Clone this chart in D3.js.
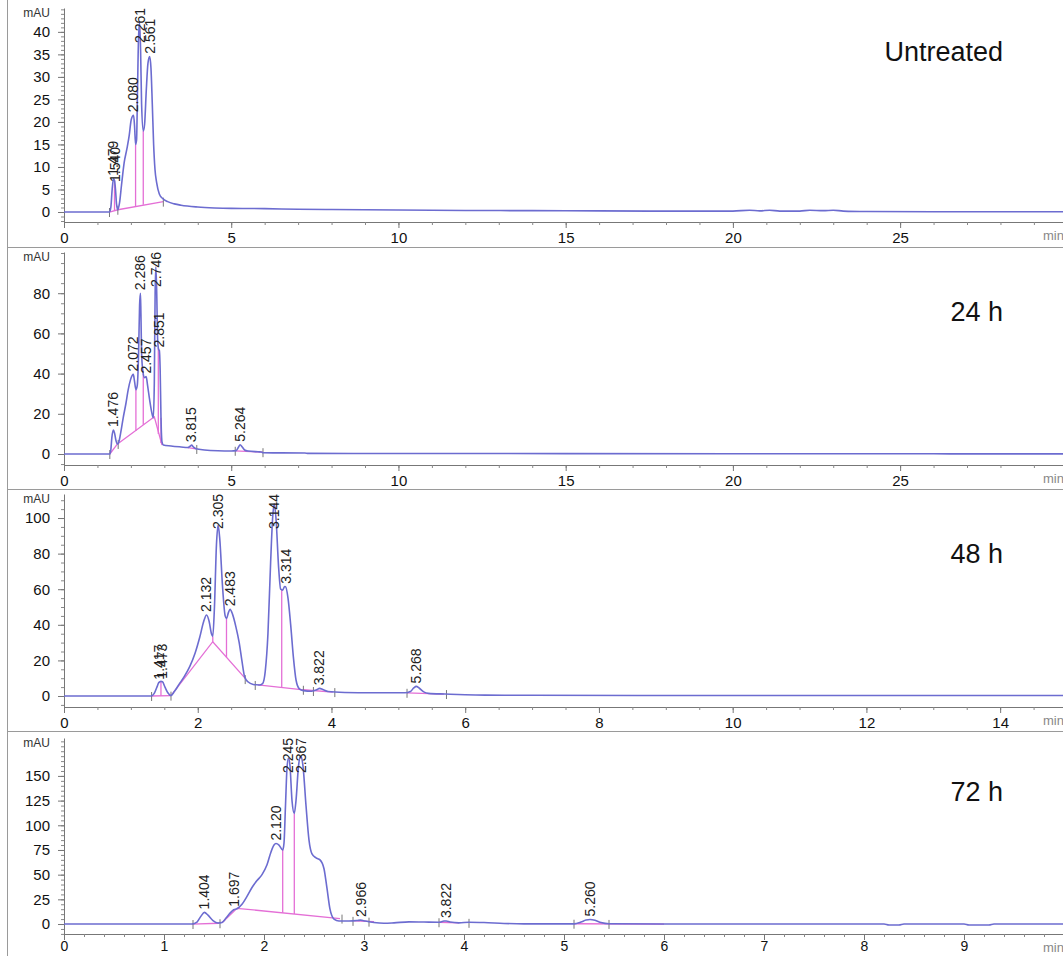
<!DOCTYPE html>
<html><head><meta charset="utf-8">
<script src="https://cdn.jsdelivr.net/npm/d3@7"></script>
<style>body{margin:0;background:#fff}svg{display:block}text{font-family:Arial,"Liberation Sans",sans-serif}</style>
</head><body><svg id="c" width="1063" height="956"></svg>
<script>
// ---------- DATA ----------
const titles = ["Untreated", "24 h", "48 h", "72 h"];

// traces: [time (min), signal (mAU)]
const traceUntreated = [[0,0],[1.36,0],[1.40,1],[1.44,5],[1.479,7.4],[1.51,7.0],[1.54,5],[1.57,1.8],[1.61,0.5],[1.66,2],[1.72,6],[1.80,11],[1.88,14],[1.95,17],[2.01,20.5],[2.080,21.5],[2.11,19],[2.14,15],[2.17,16],[2.20,28],[2.23,39],[2.261,42],[2.29,36],[2.32,24],[2.37,18],[2.41,19.5],[2.46,27],[2.51,33],[2.561,34.5],[2.60,32],[2.64,24],[2.68,15],[2.72,9.5],[2.77,6.5],[2.85,4],[2.95,3],[3.1,2.3],[3.3,1.8],[3.5,1.5],[4.0,1.1],[4.5,0.9],[5,0.8],[6,0.75],[7,0.6],[8,0.55],[9,0.5],[10,0.45],[11,0.4],[12,0.35],[14,0.3],[16,0.25],[18,0.2],[20,0.2],[20.5,0.4],[20.8,0.25],[21.1,0.4],[21.4,0.2],[22,0.2],[22.3,0.4],[22.7,0.3],[23,0.4],[23.3,0.2],[24,0.1],[26,0.05],[30,0.05]];
const trace24h = [[0,0],[1.37,0],[1.40,2],[1.43,8],[1.476,11.9],[1.51,10.5],[1.55,7],[1.60,5],[1.64,6],[1.70,11],[1.77,18],[1.85,25],[1.92,32],[1.99,37],[2.072,39.6],[2.11,36],[2.15,32],[2.19,34],[2.23,50],[2.26,74],[2.286,80],[2.30,70],[2.32,50],[2.36,41],[2.41,38],[2.457,38.5],[2.50,34],[2.56,27],[2.62,21],[2.67,18],[2.70,35],[2.725,80],[2.746,93],[2.77,82],[2.80,57],[2.83,52],[2.851,51.5],[2.875,42],[2.90,18],[2.93,6],[2.97,4.5],[3.2,4],[3.5,3.5],[3.7,3.2],[3.78,4.0],[3.815,4.4],[3.87,3.5],[3.95,2.6],[4.2,2],[4.6,1.6],[5.0,1.5],[5.15,1.7],[5.22,3.5],[5.264,4.6],[5.33,3.5],[5.4,2],[5.5,1.5],[5.8,1.1],[5.9,1.0],[5.95,0.6],[6.5,0.55],[7.2,0.5],[7.3,0.3],[10,0.25],[15,0.2],[20,0.15],[26,0.1],[27,0.05],[30,0.05]];
const trace48h = [[0,0],[1.30,0],[1.35,1.5],[1.40,6],[1.417,7.5],[1.45,8.2],[1.473,8],[1.51,5],[1.55,2],[1.60,0.3],[1.65,2.5],[1.72,6.5],[1.80,11],[1.88,16.5],[1.96,24],[2.03,33],[2.09,42],[2.132,45.5],[2.17,42],[2.205,35],[2.225,33.5],[2.25,50],[2.28,85],[2.305,96],[2.33,88],[2.37,62],[2.41,45],[2.43,43.5],[2.46,47],[2.483,48.7],[2.52,46],[2.57,39],[2.62,30],[2.66,20],[2.70,11],[2.75,8],[2.83,6.5],[2.92,6.2],[2.97,7],[3.01,14],[3.05,35],[3.09,75],[3.12,100],[3.144,108],[3.17,100],[3.21,72],[3.24,60],[3.27,59.5],[3.30,61.5],[3.314,61.4],[3.35,55],[3.39,40],[3.43,22],[3.47,9],[3.52,4],[3.58,3],[3.7,2.7],[3.78,3.5],[3.822,4.3],[3.87,3.6],[3.95,2.5],[4.2,2],[4.6,1.8],[5.1,1.8],[5.18,2.5],[5.23,4.5],[5.268,5.4],[5.31,4.5],[5.38,2.3],[5.45,1.5],[5.7,1.1],[6.0,0.7],[6.3,0.5],[7,0.4],[10,0.3],[15,0.3]];
const trace72h = [[0,0],[1.28,0],[1.33,2],[1.37,8],[1.404,11.8],[1.44,9],[1.49,3.5],[1.54,1],[1.58,1.5],[1.62,6],[1.66,11],[1.697,14.5],[1.73,15.5],[1.78,20],[1.83,28],[1.88,37],[1.93,44],[1.98,50],[2.03,60],[2.07,73],[2.10,80],[2.120,81.5],[2.15,80],[2.187,75],[2.20,82],[2.215,120],[2.23,158],[2.245,168],[2.26,160],[2.28,125],[2.303,112],[2.32,125],[2.345,160],[2.367,170],[2.39,160],[2.42,120],[2.45,85],[2.48,71],[2.52,67],[2.56,65],[2.60,56],[2.63,36],[2.66,15],[2.70,5],[2.75,3],[2.85,3],[2.93,3.5],[2.966,4],[3.0,3.3],[3.1,1.5],[3.2,0.8],[3.3,1.2],[3.45,2.2],[3.6,2.0],[3.75,1.8],[3.80,3],[3.822,3],[3.86,2],[3.95,1.2],[4.05,1.8],[4.2,1.5],[4.4,0.6],[4.6,0.2],[5.1,0.2],[5.17,2],[5.22,4],[5.260,4.6],[5.31,3.8],[5.37,1.5],[5.45,0.3],[6,0],[8.2,0],[8.25,-1],[8.35,-1],[8.4,0],[9.0,0],[9.05,-1],[9.25,-1],[9.3,0],[10,0]];

// peak labels: [label, time, apex mAU]
const peaksUntreated = [["1.479",1.479,7.4],["1.540",1.540,6.0],["2.080",2.080,21.5],["2.261",2.261,42],["2.561",2.561,34.5]];
const peaks24h = [["1.476",1.476,11.9],["2.072",2.072,39.6],["2.286",2.286,80],["2.457",2.457,38.5],["2.746",2.746,93],["2.851",2.851,51.5],["3.815",3.815,4.4],["5.264",5.264,4.6]];
const peaks48h = [["1.417",1.417,7.5],["1.473",1.473,8],["2.132",2.132,45.5],["2.305",2.305,96],["2.483",2.483,48.7],["3.144",3.144,108],["3.314",3.314,61.4],["3.822",3.822,4.3],["5.268",5.268,5.4]];
const peaks72h = [["1.404",1.404,11.8],["1.697",1.697,14.5],["2.120",2.120,81.5],["2.245",2.245,168],["2.367",2.367,170],["2.966",2.966,4],["3.822",3.822,3],["5.260",5.260,4.6]];

// integration baselines (pink): lists of polylines [time, mAU]
const baseUntreated = [[[1.36,0],[1.61,0.5]],[[1.61,0.5],[2.97,2.3]]];
const base24h = [[[1.37,0],[1.60,5]],[[1.60,5],[2.70,18.5],[2.93,4.5]],[[3.70,3.2],[3.95,2.6]],[[5.12,1.6],[5.95,0.9]]];
const base48h = [[[1.30,0],[1.60,0.2]],[[1.60,0.2],[2.225,30.5],[2.72,9.5]],[[2.90,6.2],[3.58,3.5],[4.02,2.2]],[[5.13,1.8],[5.68,1.1]]];
const base72h = [[[1.28,0],[1.55,0.8]],[[1.58,1.2],[1.73,15.9],[2.76,5.5]],[[2.90,3.2],[3.10,2.4]],[[3.75,1.8],[3.95,1.2]],[[5.10,0.3],[6.0,0]]];

// drop lines: [time, bottom mAU, top mAU]
const dropsUntreated = [[1.51,0.3,7.0],[2.14,1.2,15],[2.37,1.6,18]];
const drops24h = [[2.15,11.5,32],[2.37,14.5,40],[2.82,10,53],[2.90,5.5,18]];
const drops48h = [[1.45,0.1,8.2],[2.225,30.5,33.5],[2.43,21.8,43.5],[3.256,4.8,59.6]];
const drops72h = [[2.187,11.3,75],[2.303,10.1,112]];

// integration event marks: [time, mAU]
const eventsUntreated = [[1.36,0],[1.61,0.5],[2.97,2.3]];
const events24h = [[1.37,0],[1.62,5],[3.97,2.5],[5.12,1.6],[5.95,0.9]];
const events48h = [[1.31,0],[1.60,0.2],[2.71,9.5],[2.86,6.2],[3.58,3.5],[3.73,2.8],[4.05,2.2],[5.13,1.8],[5.72,1.1]];
const events72h = [[1.29,0],[1.56,0.8],[2.78,5.5],[2.89,3.2],[3.05,2.4],[3.75,1.8],[4.05,1.2],[5.10,0.3],[5.45,0.1]];

// axis ticks
const yMajorUntreated = [0,5,10,15,20,25,30,35,40];
const yMajor24h = [0,20,40,60,80];
const yMajor48h = [0,20,40,60,80,100];
const yMajor72h = [0,25,50,75,100,125,150];
const xMajorWide = [0,5,10,15,20,25];
const xMajor48h = [0,2,4,6,8,10,12,14];
const xMajor72h = [0,1,2,3,4,5,6,7,8,9];

// ---------- LAYOUT ----------
const svg = d3.select("#c");
const X0 = 64, XR = 1063;
const FONT = "Arial, Liberation Sans, sans-serif";
const panels = [
  {title:titles[0], trace:traceUntreated, peaks:peaksUntreated, base:baseUntreated, drops:dropsUntreated, events:eventsUntreated,
   top:8, axisY:222, yDom:[-2.22,45.3], xMax:29.87, yMaj:yMajorUntreated, yMin:1, xMaj:xMajorWide, xMin:1, titleY:61, xPad:4, xFs:15},
  {title:titles[1], trace:trace24h, peaks:peaks24h, base:base24h, drops:drops24h, events:events24h,
   top:252, axisY:465, yDom:[-5.47,100.5], xMax:29.87, yMaj:yMajor24h, yMin:5, xMaj:xMajorWide, xMin:1, titleY:321, xPad:4, xFs:15},
  {title:titles[2], trace:trace48h, peaks:peaks48h, base:base48h, drops:drops48h, events:events48h,
   top:494, axisY:707, yDom:[-6.18,113.5], xMax:14.94, yMaj:yMajor48h, yMin:5, xMaj:xMajor48h, xMin:0.5, titleY:563, xPad:4, xFs:15},
  {title:titles[3], trace:trace72h, peaks:peaks72h, base:base72h, drops:drops72h, events:events72h,
   top:738, axisY:934, yDom:[-10.1,188.4], xMax:9.99, yMaj:yMajor72h, yMin:5, xMaj:xMajor72h, xMin:0.2, titleY:801, xPad:1, xFs:14}
];

// frame
svg.append("line").attr("x1",7.5).attr("x2",7.5).attr("y1",0).attr("y2",956).attr("stroke","#9a9a9a");
[247.5,489.5,731.5].forEach(y=>svg.append("line").attr("x1",7.5).attr("x2",1063).attr("y1",y).attr("y2",y).attr("stroke","#9a9a9a"));

const TRACE = "#6c6cd0", PINK = "#e46fd6";

function rangeSteps(a,b,s){const r=[];const n0=Math.ceil(a/s-1e-9),n1=Math.floor(b/s+1e-9);for(let i=n0;i<=n1;i++)r.push(+(i*s).toFixed(4));return r;}

panels.forEach(p=>{
  const x = d3.scaleLinear().domain([0,p.xMax]).range([X0,XR]);
  const y = d3.scaleLinear().domain(p.yDom).range([p.axisY,p.top]);
  const g = svg.append("g");

  // y axis
  const yMinorAx = d3.axisLeft(y).tickValues(rangeSteps(p.yDom[0],p.yDom[1],p.yMin)).tickSize(3).tickSizeOuter(0).tickFormat("");
  g.append("g").attr("transform",`translate(${X0},0)`).call(yMinorAx).call(a=>{a.select(".domain").attr("stroke","#777");a.selectAll("line").attr("stroke","#888");});
  const yAx = d3.axisLeft(y).tickValues(p.yMaj).tickSize(6).tickSizeOuter(0).tickPadding(8);
  g.append("g").attr("transform",`translate(${X0},0)`).call(yAx).call(a=>{a.select(".domain").remove();a.selectAll("line").attr("stroke","#777");a.selectAll("text").attr("font-size",15).attr("fill","#111").attr("font-family",FONT);});
  g.append("text").attr("x",50).attr("y",p.top+9).attr("text-anchor","end").attr("font-size",12).attr("fill","#333").text("mAU");

  // x axis
  const xMinorAx = d3.axisBottom(x).tickValues(rangeSteps(0,p.xMax,p.xMin)).tickSize(3).tickSizeOuter(0).tickFormat("");
  g.append("g").attr("transform",`translate(0,${p.axisY})`).call(xMinorAx).call(a=>{a.select(".domain").attr("stroke","#777");a.selectAll("line").attr("stroke","#888");});
  const xAx = d3.axisBottom(x).tickValues(p.xMaj).tickSize(6).tickSizeOuter(0).tickPadding(p.xPad);
  g.append("g").attr("transform",`translate(0,${p.axisY})`).call(xAx).call(a=>{a.select(".domain").remove();a.selectAll("line").attr("stroke","#777");a.selectAll("text").attr("font-size",p.xFs).attr("fill","#111").attr("font-family",FONT);});
  g.append("text").attr("x",1043).attr("y",p.axisY+18).attr("font-size",13).attr("fill","#888").text("min");

  // baselines, drop lines, event marks
  const ln = d3.line().x(d=>x(d[0])).y(d=>y(d[1]));
  p.base.forEach(seg=>g.append("path").attr("d",ln(seg)).attr("fill","none").attr("stroke",PINK).attr("stroke-width",1.3));
  p.drops.forEach(d=>g.append("line").attr("x1",x(d[0])).attr("x2",x(d[0])).attr("y1",y(d[1])).attr("y2",y(d[2])).attr("stroke",PINK).attr("stroke-width",1.3));
  p.events.forEach(d=>g.append("line").attr("x1",x(d[0])).attr("x2",x(d[0])).attr("y1",y(d[1])-4).attr("y2",y(d[1])+5).attr("stroke","#777").attr("stroke-width",1));

  // trace
  const curve = d3.line().x(d=>x(d[0])).y(d=>y(d[1])).curve(d3.curveMonotoneX);
  g.append("path").attr("d",curve(p.trace)).attr("fill","none").attr("stroke",TRACE).attr("stroke-width",1.6);

  // peak labels
  p.peaks.forEach(pk=>{
    const t = g.append("text").attr("font-size",14).attr("fill","#222").attr("dy","0.35em").text(pk[0]);
    const len = t.node().getComputedTextLength();
    const yb = Math.max(y(pk[2])-3, p.top+len);
    t.attr("transform",`translate(${x(pk[1])},${yb}) rotate(-90)`);
  });

  // title
  svg.append("text").attr("x",1003).attr("y",p.titleY).attr("text-anchor","end").attr("font-size",27).attr("fill","#111").text(p.title);
});
</script></body></html>
